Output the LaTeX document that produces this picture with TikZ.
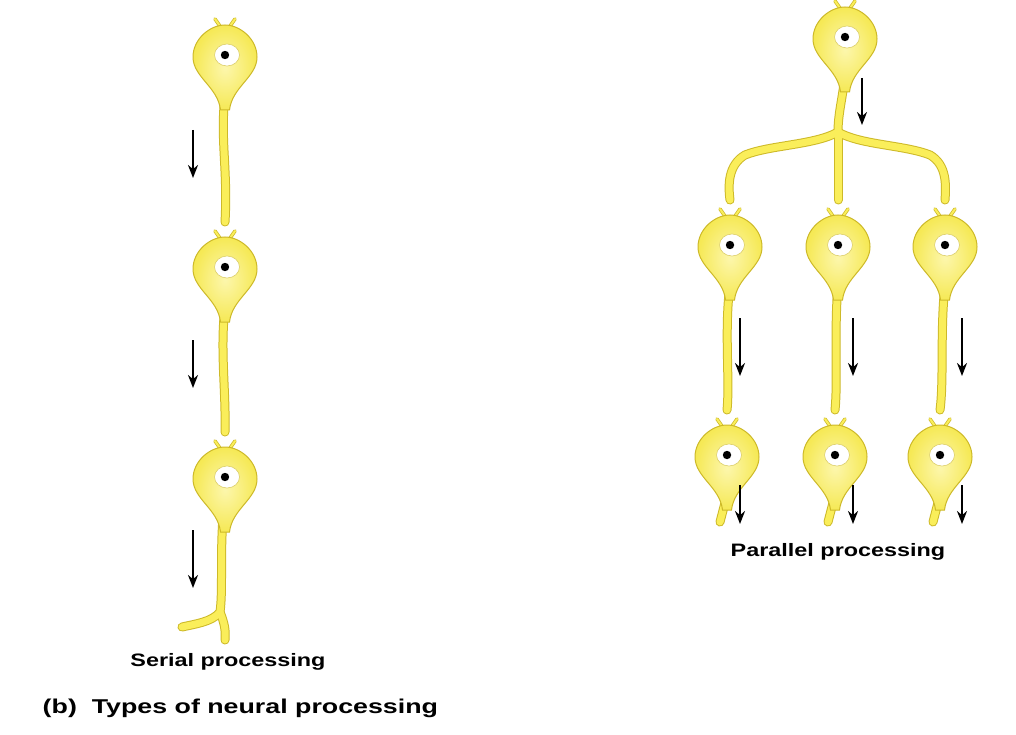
\documentclass[tikz,border=0pt]{standalone}
\usepackage{fontspec}
\setmainfont{Liberation Sans}
\usetikzlibrary{arrows.meta}
\definecolor{ny}{RGB}{250,238,90}
\definecolor{nd}{RGB}{205,185,40}
\tikzset{
 axon/.style={line width=9pt,nd,line cap=round},
 axonin/.style={line width=7pt,ny,line cap=round},
 flow/.style={line width=2.6pt,-{Stealth[length=13pt,width=10pt]}},
 lbl/.style={font=\bfseries\fontsize{18}{21}\selectfont,xscale=1.3},
 neuron/.pic={
  \draw[line width=3.5pt,nd,line cap=round] (-3,-26) -- (-10,-36) (3,-26) -- (10,-36);
  \draw[line width=2pt,ny,line cap=round] (-3,-26) -- (-10,-36) (3,-26) -- (10,-36);
  \draw[nd,line width=1pt,inner color=ny!50!white,outer color=ny!90!nd]
   (0,-30) .. controls (-15,-30) and (-32,-16) .. (-32,2)
   .. controls (-32,22) and (-7,32) .. (-4.5,55) -- (4.5,55)
   .. controls (7,32) and (32,22) .. (32,2)
   .. controls (32,-16) and (15,-30) .. (0,-30) -- cycle;
  \fill[white,draw=nd!70,line width=0.6pt] (2,0) ellipse (12.5 and 11);
  \fill[black] (0,0) circle (4.2);
 }
}
\begin{document}
\begin{tikzpicture}[x=1pt,y=-1pt]
\useasboundingbox[fill=white] (0,0) rectangle (1016,735);
% serial axons
\foreach \s in {axon,axonin}{
 \draw[\s] (225,95) .. controls (220,140) and (228,170) .. (225,222);
 \draw[\s] (225,307) .. controls (220,350) and (226,390) .. (225,432);
 \draw[\s] (223,517) .. controls (220,560) and (223,590) .. (220,612) .. controls (212,622) and (195,624) .. (182,627);
 \draw[\s] (220,612) .. controls (224,622) and (226,630) .. (225,640);
 % parallel
 \draw[\s] (845,77) .. controls (842,100) and (838,115) .. (838,132);
 \draw[\s] (838,132) .. controls (815,145) and (770,145) .. (745,155) .. controls (728,165) and (728,185) .. (730,200);
 \draw[\s] (838,132) .. controls (860,145) and (905,145) .. (930,155) .. controls (947,165) and (946,185) .. (945,200);
 \draw[\s] (838,132) -- (838,200);
 \draw[\s] (730,285) .. controls (724,330) and (730,380) .. (727,410);
 \draw[\s] (838,285) .. controls (834,330) and (838,380) .. (835,410);
 \draw[\s] (945,285) .. controls (940,330) and (944,380) .. (940,410);
 \draw[\s] (727,495) -- (720,522);
 \draw[\s] (835,495) -- (828,522);
 \draw[\s] (940,495) -- (933,522);
}
\foreach \p in {(225,55),(225,267),(225,477),(845,37),(730,245),(838,245),(945,245),(727,455),(835,455),(940,455)}
  \pic at \p {neuron};
% arrows
\draw[flow] (193,130) -- (193,178);
\draw[flow] (193,340) -- (193,388);
\draw[flow] (193,530) -- (193,588);
\draw[flow] (862,78) -- (862,125);
\foreach \x in {740,853,962}{
 \draw[flow] (\x,318) -- (\x,376);
 \draw[flow] (\x,485) -- (\x,524);
}
\node[lbl] (par) at (838,552) {Parallel processing};
\node[lbl] (ser) at (228,662) {Serial processing};
\node[lbl,anchor=west,xscale=1.03,font=\bfseries\fontsize{20}{22}\selectfont] (cap) at (38,708) {(b)\ \ Types of neural processing};
\end{tikzpicture}
\end{document}
